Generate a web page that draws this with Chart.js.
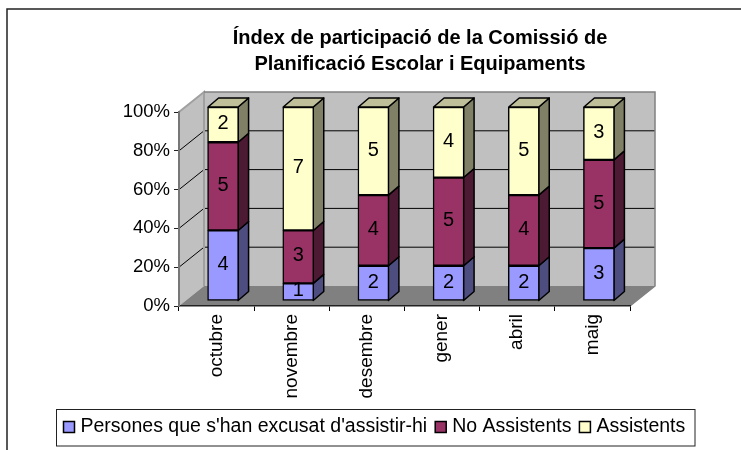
<!DOCTYPE html>
<html lang="ca">
<head>
<meta charset="UTF-8">
<title>Índex de participació</title>
<script src="https://cdn.jsdelivr.net/npm/chart.js"></script>
<style>
  html, body { margin: 0; padding: 0; background: #fff; }
  #wrap { width: 741px; height: 450px; }
</style>
</head>
<body>
<div id="wrap"><canvas id="chart" width="741" height="450"></canvas></div>
<script>
const categories = ['octubre', 'novembre', 'desembre', 'gener', 'abril', 'maig'];
const excused = [4, 1, 2, 2, 2, 3];
const absent = [5, 3, 4, 5, 4, 5];
const present = [2, 7, 5, 4, 5, 3];
const seriesNames = ["Persones que s'han excusat d'assistir-hi", 'No Assistents', 'Assistents'];
const titleLines = ['Índex de participació de la Comissió de', 'Planificació Escolar i Equipaments'];

const FONT = '"Liberation Sans", Arial, sans-serif';
// 3d look: depth of the box and of the bars, in px
const boxDx = 25, boxDy = 20;
const barOffX = 6.5, barOffY = 5;
const barDx = 10.5, barDy = 9;
const barColors = ['#9999ff', '#993366', '#ffffcc'];
const sideColors = ['#4d4d80', '#4d1a33', '#808066'];
const topColor = '#bfbf99';

const totals = categories.map((c, i) => excused[i] + absent[i] + present[i]);
const toPercent = arr => arr.map((v, i) => v / totals[i] * 100);
const counts = [excused, absent, present];

function poly(ctx, pts, fill, stroke, lw) {
    ctx.beginPath();
    pts.forEach((p, i) => i ? ctx.lineTo(p[0], p[1]) : ctx.moveTo(p[0], p[1]));
    ctx.closePath();
    if (fill) { ctx.fillStyle = fill; ctx.fill(); }
    if (stroke) { ctx.strokeStyle = stroke; ctx.lineWidth = lw; ctx.stroke(); }
}

const box3d = {
    id: 'box3d',
    afterLayout(chart) {
        // title is centred over the plot box, not over the padded area
        chart.titleBlock.left += 105;
        chart.titleBlock.right += 105;
    },
    beforeDraw(chart) {
        const ctx = chart.ctx, a = chart.chartArea, y = chart.scales.y;
        ctx.save();
        ctx.fillStyle = '#fff';
        ctx.fillRect(0, 0, chart.width, chart.height);
        // outer frame, only left and top are in the picture
        ctx.strokeStyle = '#222';
        ctx.lineWidth = 1.5;
        ctx.beginPath();
        ctx.moveTo(7, 450);
        ctx.lineTo(7, 9);
        ctx.lineTo(741, 9);
        ctx.stroke();
        // back wall, left wall, floor
        poly(ctx, [[a.left + boxDx, a.top - boxDy], [a.right + boxDx, a.top - boxDy], [a.right + boxDx, a.bottom - boxDy], [a.left + boxDx, a.bottom - boxDy]], '#c0c0c0');
        poly(ctx, [[a.left, a.top], [a.left + boxDx, a.top - boxDy], [a.left + boxDx, a.bottom - boxDy], [a.left, a.bottom]], '#c0c0c0');
        poly(ctx, [[a.left, a.bottom], [a.right, a.bottom], [a.right + boxDx, a.bottom - boxDy], [a.left + boxDx, a.bottom - boxDy]], '#808080');
        // grid lines run along both walls
        ctx.strokeStyle = '#000';
        ctx.lineWidth = 1;
        y.ticks.forEach(t => {
            if (t.value === 0 || t.value === 100) return;
            const py = y.getPixelForValue(t.value);
            ctx.beginPath();
            ctx.moveTo(a.left, py);
            ctx.lineTo(a.left + boxDx, py - boxDy);
            ctx.lineTo(a.right + boxDx, py - boxDy);
            ctx.stroke();
        });
        // wall edges
        ctx.strokeStyle = '#a0a0a0';
        ctx.lineWidth = 2;
        ctx.beginPath();
        ctx.moveTo(a.left, a.top);
        ctx.lineTo(a.left + boxDx, a.top - boxDy);
        ctx.lineTo(a.left + boxDx, a.bottom - boxDy);
        ctx.stroke();
        ctx.strokeStyle = '#808080';
        ctx.lineWidth = 1.5;
        ctx.beginPath();
        ctx.moveTo(a.left + boxDx, a.top - boxDy);
        ctx.lineTo(a.right + boxDx, a.top - boxDy);
        ctx.lineTo(a.right + boxDx, a.bottom - boxDy);
        ctx.lineTo(a.right, a.bottom);
        ctx.stroke();
        ctx.restore();
    },
    beforeDatasetsDraw(chart) {
        const ctx = chart.ctx;
        ctx.save();
        ctx.translate(barOffX, -barOffY);
        ctx.lineJoin = 'round';
        chart.data.datasets.forEach((ds, d) => {
            chart.getDatasetMeta(d).data.forEach(bar => {
                const r = bar.x + bar.width / 2 - 0.5;
                const l = bar.x - bar.width / 2 + 0.5;
                poly(ctx, [[r, bar.y], [r + barDx, bar.y - barDy], [r + barDx, bar.base - barDy], [r, bar.base]], sideColors[d], '#000', 1.5);
                if (d === chart.data.datasets.length - 1) {
                    poly(ctx, [[l, bar.y], [l + barDx, bar.y - barDy], [r + barDx, bar.y - barDy], [r, bar.y]], topColor, '#000', 1.5);
                }
            });
        });
    },
    afterDatasetsDraw(chart) {
        const ctx = chart.ctx;
        // value labels show the counts, the bars themselves are percent
        ctx.fillStyle = '#000';
        ctx.font = '20px ' + FONT;
        ctx.textAlign = 'center';
        ctx.textBaseline = 'middle';
        chart.data.datasets.forEach((ds, d) => {
            chart.getDatasetMeta(d).data.forEach((bar, i) => {
                ctx.fillText(counts[d][i], bar.x, (bar.y + bar.base) / 2 - 1);
            });
        });
        ctx.restore();
    },
    afterDraw(chart) {
        // legend in a box, the built in one can't do the tight gaps
        const ctx = chart.ctx;
        ctx.save();
        ctx.strokeStyle = '#222';
        ctx.lineWidth = 1;
        ctx.strokeRect(56.5, 409.5, 638.5, 36.5);
        ctx.font = '19.5px ' + FONT;
        ctx.textAlign = 'left';
        ctx.textBaseline = 'middle';
        let x = 63.5;
        seriesNames.forEach((name, i) => {
            ctx.fillStyle = barColors[i];
            ctx.fillRect(x, 421.5, 11, 11);
            ctx.strokeStyle = '#000';
            ctx.lineWidth = 1.5;
            ctx.strokeRect(x, 421.5, 11, 11);
            ctx.fillStyle = '#000';
            ctx.fillText(name, x + 17, 427);
            x += 17 + ctx.measureText(name).width + 8;
        });
        ctx.restore();
    }
};

new Chart(document.getElementById('chart'), {
    type: 'bar',
    data: {
        labels: categories,
        datasets: seriesNames.map((name, i) => ({
            label: name,
            data: toPercent(counts[i]),
            backgroundColor: barColors[i],
            borderColor: '#000',
            borderWidth: 1.5,
            borderSkipped: false,
            barThickness: 31
        }))
    },
    options: {
        responsive: false,
        animation: false,
        layout: { padding: { left: 0, right: 111, top: 26, bottom: 39 } },
        plugins: {
            title: {
                display: true,
                text: titleLines,
                color: '#000',
                font: { family: FONT, size: 20, weight: 'bold', lineHeight: 1.28 },
                padding: { top: 0, bottom: 34.8 }
            },
            legend: { display: false },
            tooltip: { enabled: false }
        },
        scales: {
            x: {
                stacked: true,
                afterFit(s) { s.height = 105; },
                grid: { drawOnChartArea: false, color: '#000', tickLength: 5 },
                border: { color: '#222', width: 1.5 },
                ticks: { color: '#000', font: { family: FONT, size: 19 }, minRotation: 90, maxRotation: 90, padding: 3 }
            },
            y: {
                stacked: true,
                min: 0,
                max: 100,
                afterFit(s) { s.width = 179; },
                grid: { drawOnChartArea: false, color: '#222', tickLength: 5 },
                border: { color: '#777', width: 2 },
                ticks: { color: '#000', stepSize: 20, font: { family: FONT, size: 18.5 }, padding: 4, callback: v => v + '%' }
            }
        }
    },
    plugins: [box3d]
});
</script>
</body>
</html>
